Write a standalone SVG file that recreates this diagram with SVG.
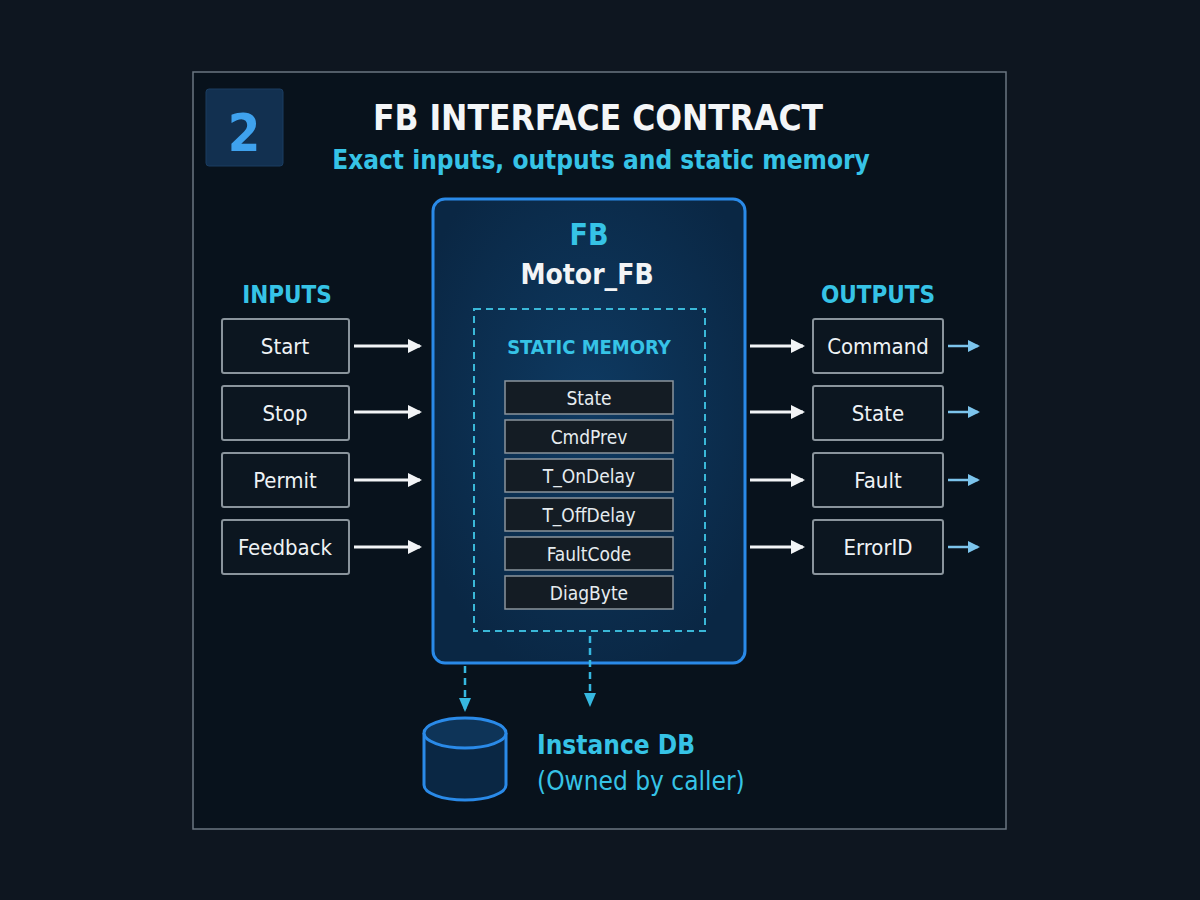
<svg xmlns="http://www.w3.org/2000/svg" width="1200" height="900" viewBox="0 0 1200 900">
<style>
text{font-family:"DejaVu Sans Condensed","Liberation Sans Narrow","Liberation Sans",sans-serif}
.box{fill:#0c1620;stroke:#8a949c;stroke-width:2}
.lbl{fill:#eef2f5;font-size:22px;text-anchor:middle}
.mem{fill:#141c24;stroke:#8a949c;stroke-width:1.5}
.ml{fill:#e6ecf0;font-size:19px;text-anchor:middle}
.cy{fill:#36c3e6}
.wa{stroke:#f2f4f6;stroke-width:3;fill:none}
.ba{stroke:#7cc4ec;stroke-width:2.5;fill:none}
.da{stroke:#36b8e0;stroke-width:2.5;fill:none;stroke-dasharray:7 5}
</style>
<defs>
<marker id="wh" markerWidth="14" markerHeight="14" refX="12" refY="7" orient="auto" markerUnits="userSpaceOnUse"><path d="M0,0 L14,7 L0,14 z" fill="#f2f4f6"/></marker>
<marker id="bh" markerWidth="12" markerHeight="12" refX="10" refY="6" orient="auto" markerUnits="userSpaceOnUse"><path d="M0,0 L12,6 L0,12 z" fill="#7cc4ec"/></marker>
<marker id="ch" markerWidth="14" markerHeight="12" refX="12" refY="6" orient="auto" markerUnits="userSpaceOnUse"><path d="M0,0 L14,6 L0,12 z" fill="#36b8e0"/></marker>
<radialGradient id="fbg" cx="0.5" cy="0.45" r="0.6"><stop offset="0" stop-color="#0e3a62"/><stop offset="1" stop-color="#0a2744"/></radialGradient>
</defs>
<rect width="1200" height="900" fill="#0e1620"/>
<rect x="193" y="72" width="813" height="757" fill="#08121c" stroke="#6a7680" stroke-width="1.5"/>
<g id="header">
<rect x="206" y="89" width="77" height="77" rx="3" fill="#123050" stroke="#1a3c60"/>
<text x="244" y="151" font-size="52" font-weight="bold" fill="#3fa2ee" text-anchor="middle">2</text>
<text x="598" y="130" font-size="35" font-weight="bold" fill="#f4f6f8" text-anchor="middle">FB INTERFACE CONTRACT</text>
<text x="601" y="169" font-size="26" font-weight="bold" class="cy" text-anchor="middle">Exact inputs, outputs and static memory</text>
</g>
<g id="fb">
<rect x="433" y="199" width="312" height="464" rx="12" fill="url(#fbg)" stroke="#2a8ae8" stroke-width="3"/>
<text x="589" y="245" font-size="30" font-weight="bold" class="cy" text-anchor="middle">FB</text>
<text x="587" y="284" font-size="28" font-weight="bold" fill="#f2f4f6" text-anchor="middle">Motor_FB</text>
</g>
<g id="static-memory">
<rect x="474" y="309" width="231" height="322" fill="none" stroke="#3ab8d8" stroke-width="2" stroke-dasharray="7 5"/>
<text x="589" y="354" font-size="20" font-weight="bold" class="cy" text-anchor="middle">STATIC MEMORY</text>
<rect class="mem" x="505" y="381" width="168" height="33"/><text class="ml" x="589" y="405">State</text>
<rect class="mem" x="505" y="420" width="168" height="33"/><text class="ml" x="589" y="444">CmdPrev</text>
<rect class="mem" x="505" y="459" width="168" height="33"/><text class="ml" x="589" y="483">T_OnDelay</text>
<rect class="mem" x="505" y="498" width="168" height="33"/><text class="ml" x="589" y="522">T_OffDelay</text>
<rect class="mem" x="505" y="537" width="168" height="33"/><text class="ml" x="589" y="561">FaultCode</text>
<rect class="mem" x="505" y="576" width="168" height="33"/><text class="ml" x="589" y="600">DiagByte</text>
</g>
<g id="inputs">
<text x="287" y="303" font-size="24" font-weight="bold" class="cy" text-anchor="middle">INPUTS</text>
<g id="in-start"><rect class="box" x="222" y="319" width="127" height="54" rx="2"/><text class="lbl" x="285" y="354">Start</text></g>
<g id="in-stop"><rect class="box" x="222" y="386" width="127" height="54" rx="2"/><text class="lbl" x="285" y="421">Stop</text></g>
<g id="in-permit"><rect class="box" x="222" y="453" width="127" height="54" rx="2"/><text class="lbl" x="285" y="488">Permit</text></g>
<g id="in-feedback"><rect class="box" x="222" y="520" width="127" height="54" rx="2"/><text class="lbl" x="285" y="555">Feedback</text></g>
</g>
<g id="outputs">
<text x="878" y="303" font-size="24" font-weight="bold" class="cy" text-anchor="middle">OUTPUTS</text>
<g id="out-command"><rect class="box" x="813" y="319" width="130" height="54" rx="2"/><text class="lbl" x="878" y="354">Command</text></g>
<g id="out-state"><rect class="box" x="813" y="386" width="130" height="54" rx="2"/><text class="lbl" x="878" y="421">State</text></g>
<g id="out-fault"><rect class="box" x="813" y="453" width="130" height="54" rx="2"/><text class="lbl" x="878" y="488">Fault</text></g>
<g id="out-errorid"><rect class="box" x="813" y="520" width="130" height="54" rx="2"/><text class="lbl" x="878" y="555">ErrorID</text></g>
</g>
<g id="instance-db">
<path d="M424,733 V785 A41,15 0 0 0 506,785 V733" fill="#0a2744" stroke="#2a8ae8" stroke-width="3"/>
<ellipse cx="465" cy="733" rx="41" ry="15" fill="#0e3458" stroke="#2a8ae8" stroke-width="3"/>
<text x="537" y="754" font-size="26" font-weight="bold" class="cy">Instance DB</text>
<text x="537" y="790" font-size="26" class="cy">(Owned by caller)</text>
</g>
<g id="connectors">
<path class="wa" d="M354,346 H420" marker-end="url(#wh)"/>
<path class="wa" d="M354,412 H420" marker-end="url(#wh)"/>
<path class="wa" d="M354,480 H420" marker-end="url(#wh)"/>
<path class="wa" d="M354,547 H420" marker-end="url(#wh)"/>
<path class="wa" d="M750,346 H803" marker-end="url(#wh)"/>
<path class="wa" d="M750,412 H803" marker-end="url(#wh)"/>
<path class="wa" d="M750,480 H803" marker-end="url(#wh)"/>
<path class="wa" d="M750,547 H803" marker-end="url(#wh)"/>
<path class="ba" d="M948,346 H978" marker-end="url(#bh)"/>
<path class="ba" d="M948,412 H978" marker-end="url(#bh)"/>
<path class="ba" d="M948,480 H978" marker-end="url(#bh)"/>
<path class="ba" d="M948,547 H978" marker-end="url(#bh)"/>
<path class="da" d="M465,666 V710" marker-end="url(#ch)"/>
<path class="da" d="M590,636 V705" marker-end="url(#ch)"/>
</g>
</svg>
